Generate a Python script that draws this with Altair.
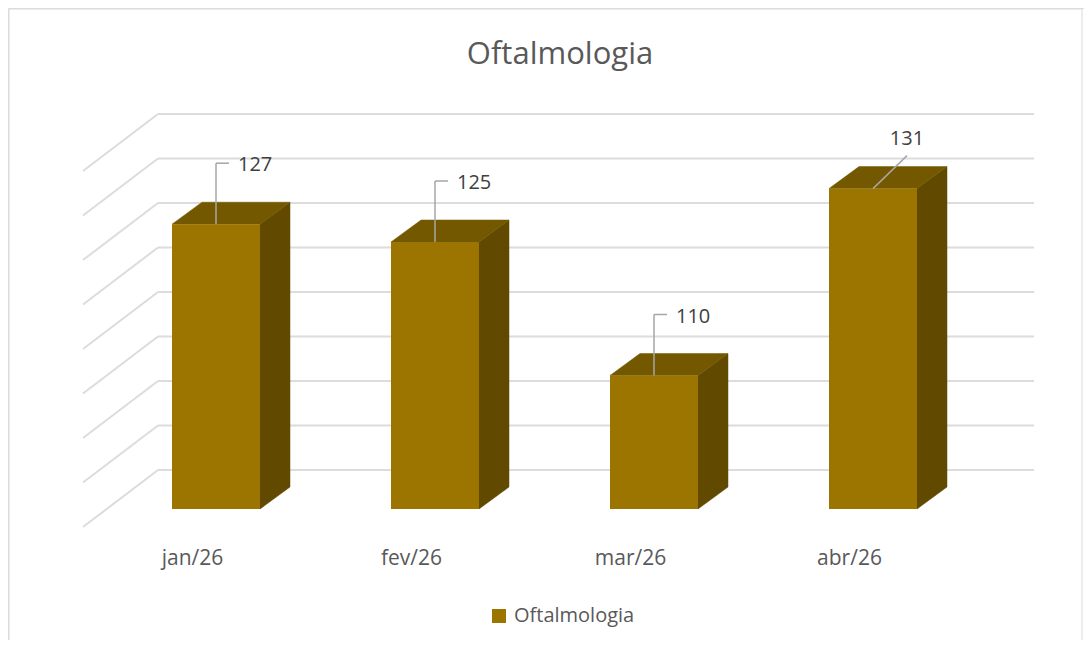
import altair as alt
import numpy as np
import pandas as pd

# ---------------- data ----------------
CATEGORIES = ["jan/26", "fev/26", "mar/26", "abr/26"]
VALUES = [127, 125, 110, 131]
SERIES = "Oftalmologia"
AXIS_MIN, AXIS_MAX, AXIS_STEP = 95, 135, 5
LABEL_STYLE = ["elbow", "elbow", "elbow", "above"]

# ---------------- style / geometry (pixels) ----------------
FONT = "Open Sans"
FRONT_C, SIDE_C, TOP_C = "#9C7500", "#614A00", "#735800"
GRID_C, LEADER_C, TEXT_C, LABEL_C = "#DCDCDC", "#A6A6A6", "#595959", "#404040"
CAT_PX = 219.0        # pixels per category step
UNIT_PX = 8.9         # pixels per value unit
BAR_PX = 88.0         # bar width
FRONT = (-51.5, 39.0)  # bar front plane, offset from back wall (right, down)
BACK = (-21.5, 17.0)   # bar back plane
FLOOR = (-75.0, 57.0)  # front edge of the side wall / floor

W, H = 1076, 632


def ox(px):
    return px / CAT_PX


def ov(py):
    return -py / UNIT_PX


xs = alt.Scale(domain=[0, 1], range=[259.5, 259.5 + CAT_PX], nice=False, zero=False)
ys = alt.Scale(domain=[AXIS_MIN, AXIS_MAX],
               range=[462, 462 - (AXIS_MAX - AXIS_MIN) * UNIT_PX], nice=False, zero=False)


def X(f):
    return alt.X(f, type="quantitative", scale=xs, axis=None)


def Y(f):
    return alt.Y(f, type="quantitative", scale=ys, axis=None, stack=None)


n = len(CATEGORIES)
hw = ox(BAR_PX / 2)

# gridlines
levels = np.arange(AXIS_MIN, AXIS_MAX + 0.001, AXIS_STEP)
grid = pd.DataFrame({"v": levels})
grid["x0"] = -0.5
grid["x1"] = n - 0.5
grid["sx"] = -0.5 + ox(FLOOR[0])
grid["sv"] = grid["v"] + ov(FLOOR[1])

back_lines = alt.Chart(grid).mark_rule(color=GRID_C, strokeWidth=2).encode(
    x=X("x0"), x2="x1", y=Y("v"))
side_lines = alt.Chart(grid).mark_rule(color=GRID_C, strokeWidth=2).encode(
    x=X("x0"), x2="sx", y=Y("v"), y2="sv")

# bars
front_rows, side_rows, top_rows = [], [], []
for i, (c, v) in enumerate(zip(CATEGORIES, VALUES)):
    fx, fv = i + ox(FRONT[0]), ov(FRONT[1])
    bx, bv = i + ox(BACK[0]), ov(BACK[1])
    front_rows.append({"bar": c, "series": SERIES, "xl": fx - hw, "xr": fx + hw,
                       "yb": AXIS_MIN + fv, "yt": v + fv})
    side_rows.append({"bar": c, "x": fx + hw, "top": v + fv, "bot": AXIS_MIN + fv})
    side_rows.append({"bar": c, "x": bx + hw, "top": v + bv, "bot": AXIS_MIN + bv})
    top_rows.append({"bar": c, "y": v + fv, "xl": fx - hw, "xr": fx + hw})
    top_rows.append({"bar": c, "y": v + bv, "xl": bx - hw, "xr": bx + hw})

front_df = pd.DataFrame(front_rows)
side_df = pd.DataFrame(side_rows)
top_df = pd.DataFrame(top_rows)

side = alt.Chart(side_df).mark_area(orient="vertical", color=SIDE_C, stroke=SIDE_C,
                                    strokeWidth=0.5).encode(
    x=X("x"), y=Y("top"), y2="bot", detail="bar:N")
top = alt.Chart(top_df).mark_area(orient="horizontal", color=TOP_C, stroke=TOP_C,
                                  strokeWidth=0.5).encode(
    y=Y("y"), x=X("xl"), x2="xr", detail="bar:N")
front = alt.Chart(front_df).mark_rect().encode(
    x=X("xl"), x2="xr", y=Y("yb"), y2="yt",
    color=alt.Color("series:N", scale=alt.Scale(range=[FRONT_C]),
                    legend=alt.Legend(orient="none", legendX=481, legendY=598, title=None,
                                      symbolType="square", symbolSize=196,
                                      symbolStrokeWidth=0, labelFont=FONT,
                                      labelFontSize=20, labelColor=TEXT_C,
                                      labelOffset=5)))

# data labels with leader lines
lead_rows, lab_rows = [], []
for i, (c, v, st) in enumerate(zip(CATEGORIES, VALUES, LABEL_STYLE)):
    cx, t = i + ox(FRONT[0]), v + ov(FRONT[1])
    if st == "elbow":
        e = t + ov(-61)
        lead_rows.append({"x": cx, "x2": cx, "y": t, "y2": e})
        lead_rows.append({"x": cx, "x2": cx + ox(13), "y": e, "y2": e})
        lab_rows.append({"x": cx + ox(22), "y": t + ov(-53), "label": str(v), "st": st})
    else:
        lead_rows.append({"x": cx, "x2": cx + ox(34), "y": t, "y2": t + ov(-33)})
        lab_rows.append({"x": cx + ox(34), "y": t + ov(-44), "label": str(v), "st": st})
lead_df = pd.DataFrame(lead_rows)
lab_df = pd.DataFrame(lab_rows)

leaders = alt.Chart(lead_df).mark_rule(color=LEADER_C, strokeWidth=1.5).encode(
    x=X("x"), x2="x2", y=Y("y"), y2="y2")
labels_left = alt.Chart(lab_df[lab_df.st == "elbow"]).mark_text(
    font=FONT, fontSize=20, color=LABEL_C, align="left", baseline="alphabetic").encode(
    x=X("x"), y=Y("y"), text="label:N")
labels_center = alt.Chart(lab_df[lab_df.st != "elbow"]).mark_text(
    font=FONT, fontSize=20, color=LABEL_C, align="center", baseline="alphabetic").encode(
    x=X("x"), y=Y("y"), text="label:N")

# category labels at the front edge of the floor
cat_df = pd.DataFrame({"cat": CATEGORIES,
                       "x": [i + ox(FLOOR[0]) for i in range(n)],
                       "y": [AXIS_MIN + ov(95)] * n})
cats = alt.Chart(cat_df).mark_text(font=FONT, fontSize=21, color=TEXT_C, align="center",
                                   baseline="alphabetic").encode(
    x=X("x"), y=Y("y"), text="cat:N")

# chart border
one = pd.DataFrame({"k": [0]})
border_top = alt.Chart(one).mark_rule(color="#D9D9D9", strokeWidth=1).encode(
    x=alt.value(1), x2=alt.value(1074), y=alt.value(1))
border_left = alt.Chart(one).mark_rule(color="#D9D9D9", strokeWidth=1).encode(
    x=alt.value(1), y=alt.value(1), y2=alt.value(660))
border_right = alt.Chart(one).mark_rule(color="#D9D9D9", strokeWidth=1).encode(
    x=alt.value(1074), y=alt.value(1), y2=alt.value(660))

chart = alt.layer(
    border_top, border_left, border_right,
    back_lines, side_lines, side, top, front, leaders, labels_left, labels_center, cats
).properties(
    width=W, height=H,
    autosize=alt.AutoSizeParams(type="none"),
    padding=0,
    title=alt.TitleParams(SERIES, font=FONT, fontSize=31, fontWeight="normal",
                          color=TEXT_C, anchor="middle", offset=0, dx=14, dy=87,
                          baseline="alphabetic"),
).configure_view(stroke=None).configure(background="white")

chart.save("out.html", embed_options={"renderer": "svg", "actions": False})
